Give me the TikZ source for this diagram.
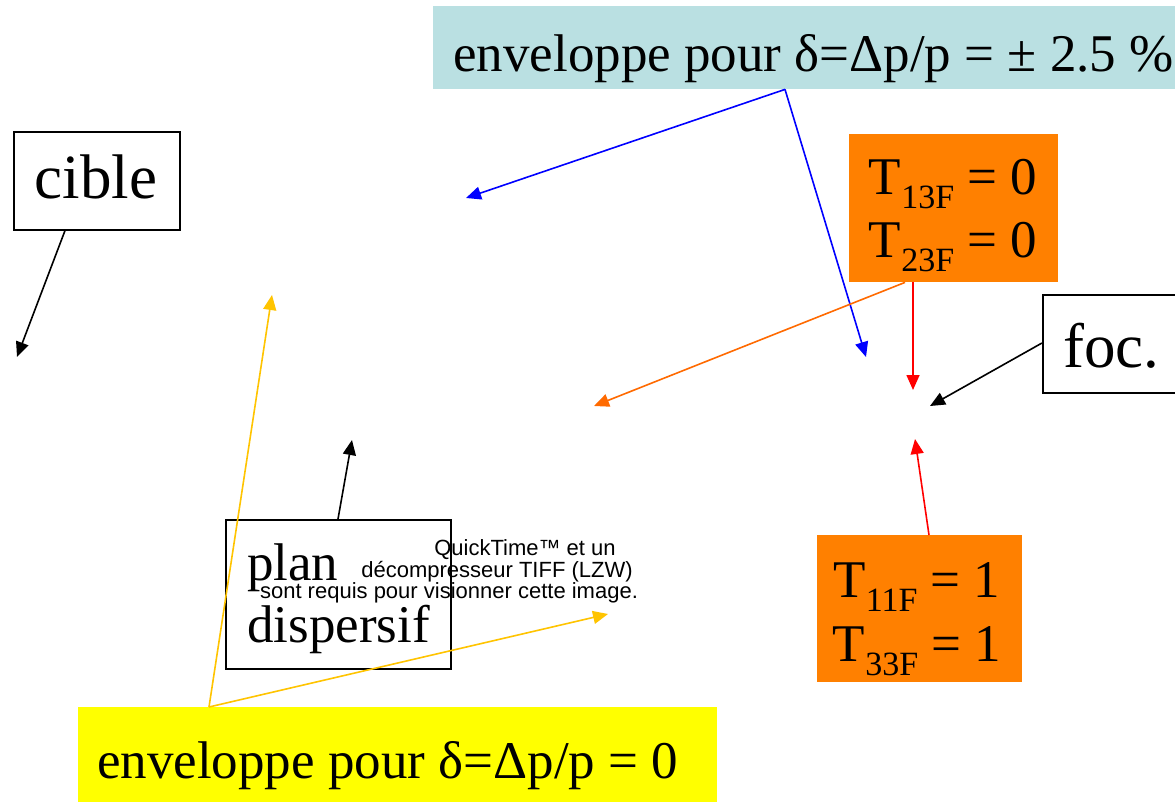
\documentclass[tikz,border=0pt]{standalone}
\usepackage{fontspec}
\setmainfont{Liberation Serif}
\newfontfamily\qtfont{Liberation Sans}
\usetikzlibrary{arrows.meta,calc}
\definecolor{envcyan}{RGB}{186,224,226}
\definecolor{boxorange}{RGB}{255,128,0}
\definecolor{arrorange}{RGB}{255,106,0}
\definecolor{arryellow}{RGB}{255,196,0}
\definecolor{boxyellow}{RGB}{255,255,0}
\newcommand{\bigtxt}{\fontsize{53}{60}\selectfont}
\newcommand{\hugetxt}{\fontsize{63}{68}\selectfont}
\newcommand{\qttxt}{\qtfont\fontsize{22}{23}\selectfont}
\newcommand{\subtxt}[1]{\raisebox{-14pt}{\fontsize{34}{34}\selectfont #1}}
\tikzset{
  box/.style={rectangle, inner sep=0pt, anchor=north west},
  framed/.style={box, draw=black, line width=1.6pt},
  lbl/.style={inner sep=0pt, anchor=base west},
  clbl/.style={inner sep=0pt, anchor=base},
  conn/.style={line width=1.6pt, -{Triangle[length=15pt,width=13pt]}},
}
\begin{document}
\begin{tikzpicture}[x=1pt,y=-1pt]
\useasboundingbox (0,0) rectangle (1175,802);
\clip (0,0) rectangle (1175,802);
\fill[white] (0,0) rectangle (1175,802);

% boxes
\node[box, fill=envcyan, minimum width=770, minimum height=83] (env) at (433,6) {};
\node[framed, minimum width=166, minimum height=98] (cible) at (13,131) {};
\node[box, fill=boxorange, minimum width=209, minimum height=148] (tA) at (849,134) {};
\node[framed, minimum width=180, minimum height=98] (foc) at (1042,294) {};
\node[box, fill=boxorange, minimum width=205, minimum height=147] (tB) at (817,535) {};
\node[framed, minimum width=225, minimum height=149] (plan) at (225,519) {};
\node[box, fill=boxyellow, minimum width=639, minimum height=100] (yel) at (78,707) {};

% texts
\node[lbl] (envtxt) at (453,72) {\bigtxt enveloppe pour δ=Δp/p = ± 2.5 \%};
\node[clbl] (cibletxt) at (96,199) {\hugetxt cible};
\node[clbl] (tA1) at (953,195) {\bigtxt T\subtxt{13F} = 0};
\node[clbl] (tA2) at (953,258) {\bigtxt T\subtxt{23F} = 0};
\node[lbl] (foctxt) at (1063,367) {\hugetxt foc.};
\node[clbl] (tB1) at (917,597) {\bigtxt T\subtxt{11F} = 1};
\node[clbl] (tB2) at (917,661) {\bigtxt T\subtxt{33F} = 1};
\node[lbl] (plan1) at (247,580) {\bigtxt plan};
\node[lbl] (plan2) at (247,642) {\bigtxt dispersif};
\node[lbl] (yeltxt) at (97,778) {\bigtxt enveloppe pour δ=Δp/p = 0};
\node[clbl] (qt1) at (525,555) {\qttxt QuickTime™ et un};
\node[clbl] (qt2) at (497,577) {\qttxt décompresseur TIFF (LZW)};
\node[clbl] (qt3) at (449,598) {\qttxt sont requis pour visionner cette image.};

% free ends of connectors
\coordinate (cibleEnd) at (17,357);
\coordinate (blueA) at (466,198);
\coordinate (blueB) at (866,357);
\coordinate (redA) at (913,390);
\coordinate (orangeEnd) at (594,406);
\coordinate (focEnd) at (930,406);
\coordinate (redB) at (915,439);
\coordinate (planEnd) at (352,440);
\coordinate (yelA) at (272,295);
\coordinate (yelB) at (608,614);

% connectors
\draw[conn, black] (cible.south west -| 65,0) -- (cibleEnd);
\draw[conn, blue] (env.south west -| 785,0) -- (blueA);
\draw[conn, blue] (env.south west -| 785,0) -- (blueB);
\draw[conn, red] (tA.south west -| 913,0) -- (redA);
\draw[conn, arrorange] (tA.south west -| 905,0) -- (orangeEnd);
\draw[conn, black] (foc.north west |- 0,343) -- (focEnd);
\draw[conn, red] (tB.north west -| 929,0) -- (redB);
\draw[conn, black] (plan.north west -| 338,0) -- (planEnd);
\draw[conn, arryellow] (yel.north west -| 209,0) -- (yelA);
\draw[conn, arryellow] (yel.north west -| 209,0) -- (yelB);
\end{tikzpicture}
\end{document}
